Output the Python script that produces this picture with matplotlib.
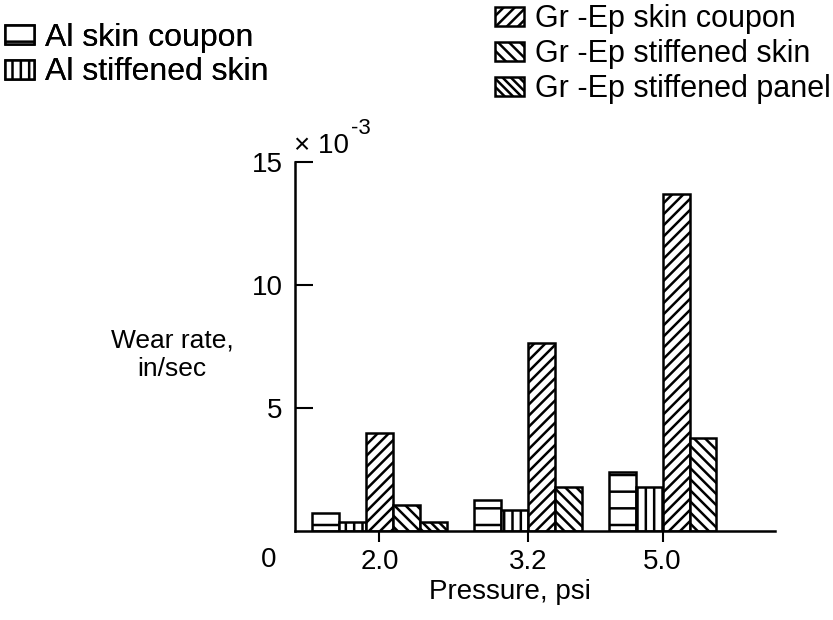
import matplotlib
matplotlib.use("Agg")
import matplotlib.pyplot as plt
from matplotlib.patches import Patch

# ---- data ----
pressures = ["2.0", "3.2", "5.0"]
series_names = ["Al skin coupon", "Al stiffened skin", "Gr -Ep skin coupon",
                "Gr -Ep stiffened skin", "Gr -Ep stiffened panel"]
al_skin_coupon = [0.73, 1.25, 2.4]
al_stiffened_skin = [0.37, 0.85, 1.8]
grep_skin_coupon = [4.0, 7.65, 13.7]
grep_stiffened_skin = [1.06, 1.8, 3.8]
grep_stiffened_panel = [0.37, None, None]
y_ticks = [5, 10, 15]

series_values = [al_skin_coupon, al_stiffened_skin, grep_skin_coupon,
                 grep_stiffened_skin, grep_stiffened_panel]
hatches = ["-", "||", "///", "\\\\\\", "\\\\\\\\"]

plt.rcParams["font.family"] = ["Liberation Sans", "DejaVu Sans"]
plt.rcParams["hatch.linewidth"] = 1.8
plt.rcParams["hatch.color"] = "black"

fig = plt.figure(figsize=(8.33, 6.2), dpi=100)
ax = fig.add_axes([295 / 833, 1 - 531 / 620, 480 / 833, 369 / 620])

bar_w = 1.0
x = 0.63
centers = []
for gi in range(len(pressures)):
    xs = []
    for si, vals in enumerate(series_values):
        v = vals[gi]
        if v is None:
            continue
        ax.bar(x + bar_w / 2, v, width=bar_w, facecolor="white", edgecolor="black",
               linewidth=1.8, hatch=hatches[si], zorder=2)
        xs.append(x + bar_w / 2)
        x += bar_w
    centers.append(sum(xs) / len(xs))
    x += bar_w

ax.set_xlim(0, 17.8)
ax.set_ylim(0, 15)
for s in ["top", "right"]:
    ax.spines[s].set_visible(False)
for s in ["left", "bottom"]:
    ax.spines[s].set_linewidth(1.8)

ax.set_xticks(centers)
ax.set_xticklabels(pressures, fontsize=20)
ax.tick_params(axis="x", direction="out", length=8, width=1.5, pad=5)
ax.set_yticks(y_ticks)
ax.set_yticklabels([str(t) for t in y_ticks], fontsize=20)
ax.tick_params(axis="y", direction="in", length=13, width=1.5, pad=9)

fig.text(269 / 833, 1 - 560 / 620, "0", fontsize=20, ha="center", va="center")
fig.text(294 / 833, 1 - 146 / 620, "× 10", fontsize=20, ha="left", va="center")
fig.text(351 / 833, 1 - 129 / 620, "-3", fontsize=16, ha="left", va="center")
fig.text(172 / 833, 1 - 355 / 620, "Wear rate,\nin/sec", fontsize=19,
         ha="center", va="center", linespacing=1.25)
fig.text(510 / 833, 1 - 592 / 620, "Pressure, psi", fontsize=20,
         ha="center", va="center")

handles = [Patch(facecolor="white", edgecolor="black", linewidth=1.8, hatch=h)
           for h in hatches]
leg1 = fig.legend(handles[:2], series_names[:2], loc="upper left",
                  bbox_to_anchor=(5 / 833, 1 - 23 / 620), frameon=False, fontsize=23,
                  handlelength=0.9, handleheight=0.55, handletextpad=0.35,
                  labelspacing=0.14, borderaxespad=0, borderpad=0)
leg2 = fig.legend(handles[2:], series_names[2:], loc="upper left",
                  bbox_to_anchor=(495 / 833, 1 - 4 / 620), frameon=False, fontsize=22,
                  handlelength=0.95, handleheight=0.6, handletextpad=0.35,
                  labelspacing=0.17, borderaxespad=0, borderpad=0)
fig.add_artist(leg1)

fig.savefig("out.png", dpi=100)
